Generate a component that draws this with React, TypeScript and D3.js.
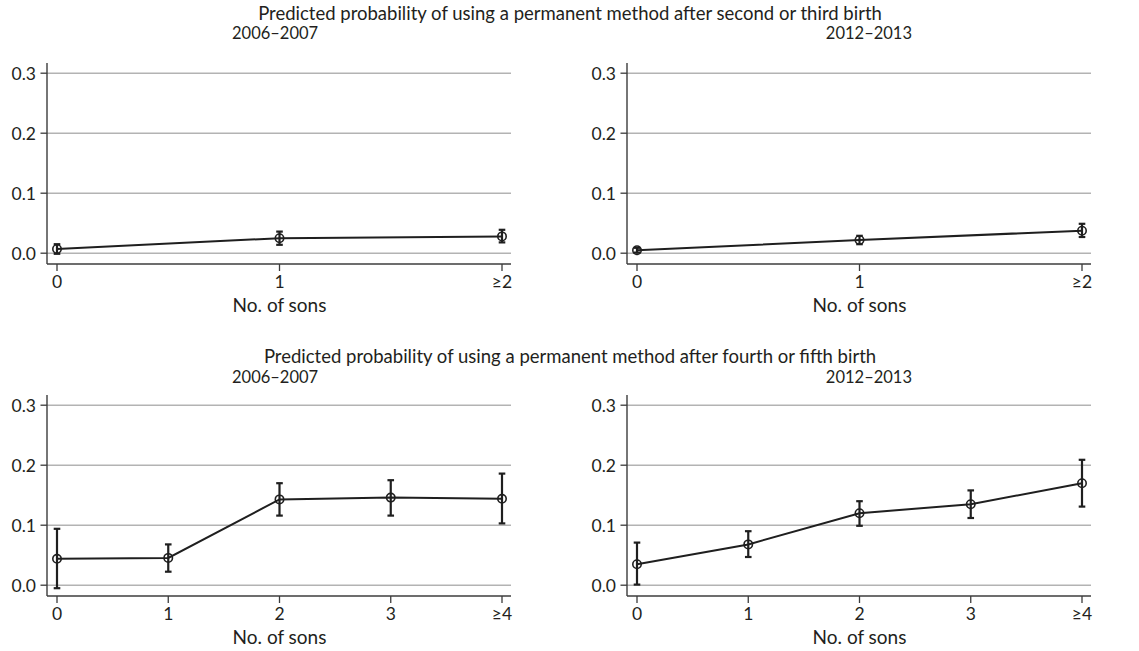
import React from "react";
import * as d3 from "d3";

const CATS_A = ["0", "1", "≥2"];
const CATS_B = ["0", "1", "2", "3", "≥4"];
const Y_TICKS = [0, 0.1, 0.2, 0.3];

// Top-left: after 2nd/3rd birth, 2006–2007
const TL_EST = [0.007, 0.025, 0.028];
const TL_LO = [-0.001, 0.014, 0.018];
const TL_HI = [0.015, 0.036, 0.039];
// Top-right: after 2nd/3rd birth, 2012–2013
const TR_EST = [0.005, 0.022, 0.0375];
const TR_LO = [0.001, 0.015, 0.027];
const TR_HI = [0.009, 0.029, 0.049];
// Bottom-left: after 4th/5th birth, 2006–2007
const BL_EST = [0.044, 0.0455, 0.143, 0.146, 0.144];
const BL_LO = [-0.005, 0.0225, 0.116, 0.116, 0.103];
const BL_HI = [0.094, 0.068, 0.17, 0.175, 0.186];
// Bottom-right: after 4th/5th birth, 2012–2013
const BR_EST = [0.035, 0.068, 0.12, 0.135, 0.17];
const BR_LO = [0.001, 0.047, 0.099, 0.112, 0.131];
const BR_HI = [0.071, 0.09, 0.14, 0.158, 0.209];

const TITLE_TOP = "Predicted probability of using a permanent method after second or third birth";
const TITLE_BOTTOM = "Predicted probability of using a permanent method after fourth or fifth birth";
const PERIOD_L = "2006–2007";
const PERIOD_R = "2012–2013";
const X_TITLE = "No. of sons";

const FONT = "Lato, 'Open Sans', sans-serif";
const TXT = "#231f20";
const FS_TICK = 17.5;
const FS_TITLE = 18.5;
const FS_SUB = 16.5;
const FS_AXT = 19;

type PanelProps = {
  ox: number;
  oy: number;
  cats: string[];
  est: number[];
  lo: number[];
  hi: number[];
};

function Panel({ ox, oy, cats, est, lo, hi }: PanelProps) {
  const x = d3.scalePoint<string>().domain(cats).range([ox + 10, ox + 455]);
  const y = d3.scaleLinear().domain([-0.018, 0.317]).range([oy + 264, oy + 63]);
  const right = ox + 464;
  const line = d3
    .line<number>()
    .x((_, i) => x(cats[i]) as number)
    .y((d) => y(d));
  return (
    <g>
      {Y_TICKS.map((t) => (
        <line key={"g" + t} x1={ox} x2={right} y1={y(t)} y2={y(t)} stroke="#b3b3b3" strokeWidth={1.4} />
      ))}
      <line x1={ox} x2={ox} y1={y.range()[1]} y2={y.range()[0]} stroke="#3c3c3c" strokeWidth={1.4} />
      <line x1={ox} x2={right} y1={y.range()[0]} y2={y.range()[0]} stroke="#3c3c3c" strokeWidth={1.4} />
      {Y_TICKS.map((t) => (
        <g key={"yt" + t}>
          <line x1={ox - 6.5} x2={ox} y1={y(t)} y2={y(t)} stroke="#3c3c3c" strokeWidth={1.3} />
          <text x={ox - 11} y={y(t)} dy="0.36em" textAnchor="end" fontSize={FS_TICK} fill={TXT} fontFamily={FONT}>
            {d3.format(".1f")(t)}
          </text>
        </g>
      ))}
      {cats.map((c) => (
        <g key={"xt" + c}>
          <line x1={x(c)} x2={x(c)} y1={y.range()[0]} y2={y.range()[0] + 7} stroke="#3c3c3c" strokeWidth={1.3} />
          <text x={x(c)} y={oy + 288} textAnchor="middle" fontSize={FS_TICK} fill={TXT} fontFamily={FONT}>
            {c}
          </text>
        </g>
      ))}
      <text x={(ox + 10 + ox + 455) / 2} y={oy + 312} textAnchor="middle" fontSize={FS_AXT} fill={TXT} fontFamily={FONT}>
        {X_TITLE}
      </text>
      <path d={line(est) || ""} fill="none" stroke="#1f1f1f" strokeWidth={2} />
      {cats.map((c, i) => (
        <g key={"e" + c} stroke="#1f1f1f" strokeWidth={2.2}>
          <line x1={x(c)} x2={x(c)} y1={y(lo[i])} y2={y(hi[i])} />
          <line x1={(x(c) as number) - 3.3} x2={(x(c) as number) + 3.3} y1={y(lo[i])} y2={y(lo[i])} />
          <line x1={(x(c) as number) - 3.3} x2={(x(c) as number) + 3.3} y1={y(hi[i])} y2={y(hi[i])} />
        </g>
      ))}
      {cats.map((c, i) => (
        <circle key={"p" + c} cx={x(c)} cy={y(est[i])} r={4.2} fill="none" stroke="#1f1f1f" strokeWidth={1.6} />
      ))}
    </g>
  );
}

export default function App() {
  return (
    <svg width={1139} height={651} style={{ position: "absolute", left: 0, top: 0, background: "#fff" }}>
      <rect width={1139} height={651} fill="#fff" />
      <text x={570} y={20} textAnchor="middle" fontSize={FS_TITLE} fill={TXT} fontFamily={FONT}>{TITLE_TOP}</text>
      <text x={232} y={39} fontSize={FS_SUB} fill={TXT} fontFamily={FONT}>{PERIOD_L}</text>
      <text x={912} y={39} textAnchor="end" fontSize={FS_SUB} fill={TXT} fontFamily={FONT}>{PERIOD_R}</text>
      <text x={570} y={363} textAnchor="middle" fontSize={FS_TITLE} fill={TXT} fontFamily={FONT}>{TITLE_BOTTOM}</text>
      <text x={232} y={383} fontSize={FS_SUB} fill={TXT} fontFamily={FONT}>{PERIOD_L}</text>
      <text x={912} y={383} textAnchor="end" fontSize={FS_SUB} fill={TXT} fontFamily={FONT}>{PERIOD_R}</text>
      <Panel ox={47} oy={0} cats={CATS_A} est={TL_EST} lo={TL_LO} hi={TL_HI} />
      <Panel ox={627} oy={0} cats={CATS_A} est={TR_EST} lo={TR_LO} hi={TR_HI} />
      <Panel ox={47} oy={332} cats={CATS_B} est={BL_EST} lo={BL_LO} hi={BL_HI} />
      <Panel ox={627} oy={332} cats={CATS_B} est={BR_EST} lo={BR_LO} hi={BR_HI} />
    </svg>
  );
}
